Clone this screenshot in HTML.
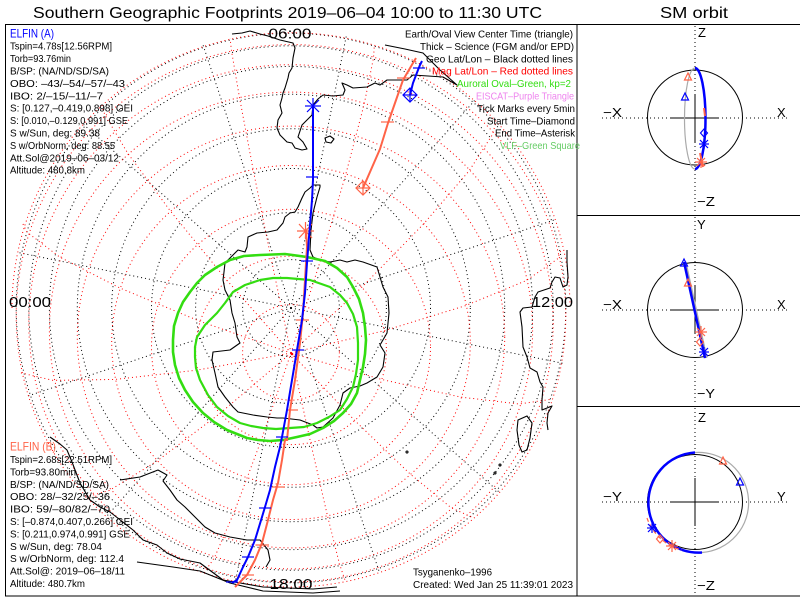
<!DOCTYPE html>
<html><head><meta charset="utf-8"><style>
html,body{margin:0;padding:0;background:#fff;}
svg{display:block;}
text{font-family:"Liberation Sans",sans-serif;}
</style></head><body>
<svg width="800" height="600" viewBox="0 0 800 600" xmlns="http://www.w3.org/2000/svg">
<rect width="800" height="600" fill="#fff"/>
<defs><clipPath id="mc"><rect x="5" y="24" width="572" height="572"/></clipPath></defs>

<!-- Titles -->
<text x="33" y="18" font-size="16" textLength="509" lengthAdjust="spacingAndGlyphs">Southern Geographic Footprints 2019–06–04 10:00 to 11:30 UTC</text>
<text x="660" y="18" font-size="16" textLength="68" lengthAdjust="spacingAndGlyphs">SM orbit</text>

<g clip-path="url(#mc)">
<!-- geo circles (black dotted) -->
<g fill="none" stroke="#000" stroke-width="1" stroke-dasharray="1,3">
<circle cx="291" cy="308" r="48.4"/>
<circle cx="291" cy="308" r="95.4"/>
<circle cx="291" cy="308" r="139.5"/>
<circle cx="291" cy="308" r="179.3"/>
<circle cx="291" cy="308" r="213.7"/>
<circle cx="291" cy="308" r="241.6"/>
<circle cx="291" cy="308" r="262.2"/>
<circle cx="291" cy="308" r="274.8"/>
<line x1="291" y1="308" x2="564.4" y2="363.6"/>
<line x1="291" y1="308" x2="500" y2="492.9"/>
<line x1="291" y1="308" x2="379.5" y2="572.6"/>
<line x1="291" y1="308" x2="235.4" y2="581.4"/>
<line x1="291" y1="308" x2="106.1" y2="517"/>
<line x1="291" y1="308" x2="26.4" y2="396.5"/>
<line x1="291" y1="308" x2="17.6" y2="252.4"/>
<line x1="291" y1="308" x2="82" y2="123.1"/>
<line x1="291" y1="308" x2="202.5" y2="43.4"/>
<line x1="291" y1="308" x2="346.6" y2="34.6"/>
<line x1="291" y1="308" x2="475.9" y2="99"/>
<line x1="291" y1="308" x2="555.6" y2="219.5"/>
</g>
<!-- mag circles (red dotted) -->
<g fill="none" stroke="#ff0000" stroke-width="1" stroke-dasharray="1,3">
<ellipse cx="291" cy="352.4" rx="48.4" ry="47.8"/>
<ellipse cx="291" cy="350.4" rx="95.4" ry="94.2"/>
<ellipse cx="291" cy="347" rx="139.5" ry="137.7"/>
<ellipse cx="291" cy="342.5" rx="179.3" ry="177"/>
<ellipse cx="291" cy="337" rx="213.7" ry="210.9"/>
<ellipse cx="291" cy="330.5" rx="241.6" ry="238.4"/>
<ellipse cx="291" cy="323.4" rx="262.2" ry="258.7"/>
<ellipse cx="291" cy="315.8" rx="274.8" ry="271.2"/>
<path d="M12,308 A279 275.3 0 0 1 570,308"/>
<g transform="rotate(-4 291 353)">
<polyline points="291,353 385.5,337.3 468.6,317.9 530.3,297.3 563.1,278 567.3,269.7"/>
<polyline points="291,353 379.5,385.7 457.2,408.8 515,419.8 545.8,417.4"/>
<polyline points="291,353 349.7,424.6 401.4,482 439.8,518.4 460.2,529.5"/>
<polyline points="291,353 304.3,443.7 316,517.8 324.6,566.7 329.3,584.4"/>
<polyline points="291,353 255.3,437.7 223.8,506.6 200.5,551.6 188.1,567.3"/>
<polyline points="291,353 215.8,408.4 149.7,451.5 100.6,477.3 74.5,482.8"/>
<polyline points="291,353 196.5,363.5 113.4,367.1 51.7,363.7 18.9,353.6"/>
<polyline points="291,353 202.5,315.1 124.8,276.2 67,241.2 36.2,214.2 32.3,204.9"/>
<polyline points="291,353 232.3,276.2 180.6,203 142.2,142.6 121.8,102.1 119.2,91"/>
<polyline points="291,353 277.7,257.1 266,167.2 257.4,94.3 252.7,47.2 252.2,35.3"/>
<polyline points="291,353 326.7,263.1 358.2,178.4 381.5,109.4 393.9,64.3 395.5,52.7"/>
<polyline points="291,353 366.2,292.4 432.3,233.5 481.4,183.7 507.5,148.8 510.9,138.5"/>
</g>
</g>

<!-- Coastlines -->
<g fill="none" stroke="#000" stroke-width="1.1" stroke-linejoin="round">
<polyline points="232,34 242,33 250,31 260,34 268,36 280,40 293,43 295,48 293,58 292,68 289,73 288,78 285,88 283,93 282,98 280,105 282,113 278,120 277,128 280,135 284,139 287,142 292,143 295,148 302,150 307,149 303,142 298,137 302,125 307,120 312,115 313,105 318,99 323,95 333,96 343,95 345,90 342,83 347,85 353,88 367,87 375,83 380,85 387,80 393,80 407,80 413,75 428,76 443,77 457,85 440,70 423,53 405,49 385,45"/>
<polygon points="325,138 330,136 334,139 331,143 326,142"/>
<polygon points="320,185 313,185 310,188 305,192 302,198 298,207 295,212 290,213 285,217 283,223 277,230 268,232 257,233 248,237 247,247 245,252 238,250 230,258 225,263 224,272 223,280 225,290 230,300 232,313 235,323 237,337 240,343 230,350 213,352 212,360 215,373 218,387 225,397 233,407 238,412 253,415 267,417 277,418 283,418 300,420 313,425 317,428 323,427 333,418 340,405 343,393 350,388 360,386 367,383 377,377 383,367 385,353 380,345 387,333 389,313 388,297 383,287 380,277 377,267 363,262 355,260 347,262 340,260 330,262 320,260 313,257 310,250 311,230 313,213 317,197 320,187"/>
<polyline points="567,250 567,262 568,277 567,285 563,287 560,278 555,277 552,282 550,288 538,292 535,297 532,307 523,308 520,312 522,327 523,347 527,357 530,368 537,372 540,382 543,387 542,400 542,410 547,408 552,406 548,413 547,423 548,430"/>
<polygon points="518,420 527,416 532,423 530,438 527,450 522,452 519,445 517,430"/>
<polyline points="50,437 60,444 67,450 72,462 80,483 90,500 100,507 110,512 133,530 143,540 157,545 167,553 180,559 200,563 223,580 263,587 313,589 337,587"/>
<polyline points="137,562 173,567 200,571 230,583 263,591 313,593 340,591"/>
<polyline points="120,480 140,477 158,470 167,475 163,481 170,490 177,500 185,507 195,517 205,527 215,533 230,537 247,540 260,540 268,550 270,560 266,567"/>
<circle cx="407" cy="452" r="1"/><circle cx="500" cy="465" r="1"/><circle cx="495" cy="473" r="1"/>
</g>

<!-- Auroral ovals -->
<g fill="none" stroke="#33dd11" stroke-linejoin="round">
<polygon stroke-width="2.6" points="260,255 285,254 307,257 325,261 337,268 347,277 353,287 359,299 363,313 365,327 366,340 365,354 363,367 360,380 357,393 351,404 343,413 334,421 323,428 310,434 297,437 283,440 270,441 258,440 247,438 237,434 227,430 214,422 203,413 193,402 185,390 179,378 175,365 173,352 173,340 174,326 178,313 183,302 190,292 197,283 205,275 217,267 230,260 244,256"/>
<polygon stroke-width="2.2" points="287,278 310,280 330,287 340,295 347,303 353,314 357,327 358,343 358,360 356,374 353,387 347,399 340,410 329,417 317,423 304,427 290,428 276,429 263,428 251,426 240,423 228,416 217,407 208,395 200,380 196,368 195,357 195,347 197,337 205,325 217,313 225,303 233,292 245,285 260,280 273,278"/>
</g>

<!-- ELFIN B track (orange) -->
<g fill="none" stroke="#ff6347" stroke-width="2">
<polyline points="235,587 240,582 247,575 255,560 262,543 268,520 273,500 278,483 282,460 285,440 287,440 290,410 295,380 300,343 303,313 305,280 307,247 306,230"/>
<polyline points="363,188 370,172 380,149 388,123 395,103 403,80 413,63 416,58"/>
<g stroke-width="1.2">
<line x1="272" y1="487" x2="285" y2="487"/>
<line x1="256" y1="545" x2="269" y2="545"/>
<line x1="242" y1="575" x2="254" y2="575"/>
<line x1="296" y1="320" x2="309" y2="320"/>
<line x1="286" y1="410" x2="298" y2="410"/>
<line x1="397" y1="78" x2="410" y2="78"/>
<line x1="381" y1="122" x2="394" y2="122"/>
<polygon points="363,181 370,188 363,195 356,188"/>
<line x1="356" y1="188" x2="370" y2="188"/><line x1="363" y1="181" x2="363" y2="195"/>
<line x1="297" y1="231" x2="314" y2="231"/><line x1="305.5" y1="222" x2="305.5" y2="239"/>
<line x1="299" y1="224" x2="312" y2="238"/><line x1="312" y1="224" x2="299" y2="238"/>
</g>
<circle cx="292" cy="354" r="1.3" fill="#ff0000" stroke="none"/>
</g>

<!-- ELFIN A track (blue) -->
<g fill="none" stroke="#0000ff" stroke-width="2">
<polyline points="232,583 237,580 243,567 248,557 255,540 262,517 265,507 270,490 275,467 280,447 282,437 287,410 292,380 297,350 302,320 305,293 307,263 309,237 312,200 313,180 313,142 313,106"/>
<polyline points="410,95 413,83 418,70 420,65 422,61"/>
<g stroke-width="1.2">
<line x1="306" y1="177" x2="318" y2="177"/>
<line x1="301" y1="261" x2="313" y2="261"/>
<line x1="292" y1="350" x2="304" y2="350"/>
<line x1="276" y1="437" x2="288" y2="437"/>
<line x1="259" y1="508" x2="271" y2="508"/>
<line x1="242" y1="557" x2="254" y2="557"/>
<line x1="226" y1="582" x2="238" y2="582"/>
<line x1="413" y1="68" x2="425" y2="68"/>
<polygon points="410,88 417,95 410,102 403,95"/>
<line x1="403" y1="95" x2="417" y2="95"/><line x1="410" y1="88" x2="410" y2="102"/>
<line x1="305" y1="106" x2="321" y2="106"/><line x1="313" y1="98" x2="313" y2="114"/>
<line x1="307" y1="100" x2="319" y2="112"/><line x1="319" y1="100" x2="307" y2="112"/>
</g>
</g>

<!-- hour labels -->
<g font-size="15">
<text x="268.5" y="38.5" textLength="43" lengthAdjust="spacingAndGlyphs">06:00</text>
<text x="269.5" y="589" textLength="43" lengthAdjust="spacingAndGlyphs">18:00</text>
<text x="9" y="307" textLength="42" lengthAdjust="spacingAndGlyphs">00:00</text>
<text x="532" y="307" textLength="41" lengthAdjust="spacingAndGlyphs">12:00</text>
</g>
</g>

<!-- frames -->
<g stroke="#000" stroke-width="1" fill="none">
<rect x="5.5" y="24.5" width="571.5" height="571.5"/>
<line x1="577" y1="24.5" x2="800" y2="24.5"/>
<line x1="577" y1="215.5" x2="800" y2="215.5"/>
<line x1="577" y1="406.5" x2="800" y2="406.5"/>
<line x1="577" y1="596" x2="800" y2="596"/>
</g>

<!-- ELFIN A text -->
<g font-size="10.5">
<text x="10" y="37.5" font-size="12" fill="#0000ff" textLength="44" lengthAdjust="spacingAndGlyphs">ELFIN (A)</text>
<text x="10" y="49.7" textLength="102" lengthAdjust="spacingAndGlyphs">Tspin=4.78s[12.56RPM]</text>
<text x="10" y="62.1" textLength="61" lengthAdjust="spacingAndGlyphs">Torb=93.76min</text>
<text x="10" y="74.5" textLength="99" lengthAdjust="spacingAndGlyphs">B/SP: (NA/ND/SD/SA)</text>
<text x="10" y="86.9" textLength="115" lengthAdjust="spacingAndGlyphs">OBO: –43/–54/–57/–43</text>
<text x="10" y="99.3" textLength="93" lengthAdjust="spacingAndGlyphs">IBO: 2/–15/–11/–7</text>
<text x="10" y="111.7" textLength="123" lengthAdjust="spacingAndGlyphs">S: [0.127,–0.419,0.898] GEI</text>
<text x="10" y="124.1" textLength="118" lengthAdjust="spacingAndGlyphs">S: [0.010,–0.129,0.991] GSE</text>
<text x="10" y="136.5" textLength="90" lengthAdjust="spacingAndGlyphs">S w/Sun, deg: 89.38</text>
<text x="10" y="148.9" textLength="105" lengthAdjust="spacingAndGlyphs">S w/OrbNorm, deg: 88.55</text>
<text x="10" y="161.3" textLength="109" lengthAdjust="spacingAndGlyphs">Att.Sol@2019–06–03/12</text>
<text x="10" y="173.7" textLength="75" lengthAdjust="spacingAndGlyphs">Altitude: 480.8km</text>
</g>

<!-- ELFIN B text -->
<g font-size="10.5">
<text x="10" y="450.5" font-size="12" fill="#ff6347" textLength="46" lengthAdjust="spacingAndGlyphs">ELFIN (B)</text>
<text x="10" y="463" textLength="102" lengthAdjust="spacingAndGlyphs">Tspin=2.68s[22.51RPM]</text>
<text x="10" y="475.4" textLength="66" lengthAdjust="spacingAndGlyphs">Torb=93.80min</text>
<text x="10" y="487.8" textLength="99" lengthAdjust="spacingAndGlyphs">B/SP: (NA/ND/SD/SA)</text>
<text x="10" y="500.2" textLength="100" lengthAdjust="spacingAndGlyphs">OBO: 28/–32/25/–36</text>
<text x="10" y="512.6" textLength="100" lengthAdjust="spacingAndGlyphs">IBO: 59/–80/82/–70</text>
<text x="10" y="525" textLength="123" lengthAdjust="spacingAndGlyphs">S: [–0.874,0.407,0.266] GEI</text>
<text x="10" y="537.4" textLength="120" lengthAdjust="spacingAndGlyphs">S: [0.211,0.974,0.991] GSE</text>
<text x="10" y="549.8" textLength="92" lengthAdjust="spacingAndGlyphs">S w/Sun, deg: 78.04</text>
<text x="10" y="562.2" textLength="114" lengthAdjust="spacingAndGlyphs">S w/OrbNorm, deg: 112.4</text>
<text x="10" y="574.6" textLength="115" lengthAdjust="spacingAndGlyphs">Att.Sol@: 2019–06–18/11</text>
<text x="10" y="587" textLength="75" lengthAdjust="spacingAndGlyphs">Altitude: 480.7km</text>
</g>

<!-- bottom right -->
<g font-size="10.5">
<text x="413" y="575.5" textLength="79" lengthAdjust="spacingAndGlyphs">Tsyganenko–1996</text>
<text x="413" y="588" textLength="160" lengthAdjust="spacingAndGlyphs">Created: Wed Jan 25 11:39:01 2023</text>
</g>

<!-- legend -->
<g font-size="10.5">
<text x="405" y="37.5" textLength="168" lengthAdjust="spacingAndGlyphs">Earth/Oval View Center Time (triangle)</text>
<text x="420" y="49.9" textLength="154" lengthAdjust="spacingAndGlyphs">Thick – Science (FGM and/or EPD)</text>
<text x="426" y="62.3" textLength="147" lengthAdjust="spacingAndGlyphs">Geo Lat/Lon – Black dotted lines</text>
<text x="432" y="74.7" fill="#ff0000" textLength="141" lengthAdjust="spacingAndGlyphs">Mag Lat/Lon – Red dotted lines</text>
<text x="457" y="87.1" fill="#33dd11" textLength="114" lengthAdjust="spacingAndGlyphs">Auroral Oval–Green, kp=2</text>
<text x="476" y="99.5" fill="#ee82ee" textLength="98" lengthAdjust="spacingAndGlyphs">EISCAT–Purple Triangle</text>
<text x="477" y="111.9" textLength="98" lengthAdjust="spacingAndGlyphs">Tick Marks every 5min</text>
<text x="487" y="124.3" textLength="88" lengthAdjust="spacingAndGlyphs">Start Time–Diamond</text>
<text x="495" y="136.7" textLength="80" lengthAdjust="spacingAndGlyphs">End Time–Asterisk</text>
<text x="500" y="149.1" fill="#66cc66" textLength="80" lengthAdjust="spacingAndGlyphs">VLF–Green Square</text>
</g>

<!-- Right panels -->
<g fill="none" stroke="#000" stroke-width="1" stroke-dasharray="1,3">
<line x1="602" y1="118" x2="790" y2="118"/><line x1="695" y1="26" x2="695" y2="214"/>
<line x1="602" y1="310" x2="790" y2="310"/><line x1="695" y1="217" x2="695" y2="405"/>
<line x1="602" y1="502" x2="790" y2="502"/><line x1="695" y1="408" x2="695" y2="596"/>
</g>
<g fill="none" stroke="#000" stroke-width="1">
<line x1="671" y1="118" x2="719" y2="118"/><line x1="695" y1="94" x2="695" y2="142"/>
<circle cx="695" cy="117.5" r="47.5"/>
<line x1="671" y1="310" x2="719" y2="310"/><line x1="695" y1="286" x2="695" y2="334"/>
<circle cx="695" cy="310" r="47.5"/>
<line x1="671" y1="502" x2="719" y2="502"/><line x1="695" y1="478" x2="695" y2="526"/>
<circle cx="695" cy="502" r="47.5"/>
</g>
<g font-size="13">
<text x="698" y="37">Z</text>
<text x="697" y="206" textLength="18" lengthAdjust="spacingAndGlyphs">−Z</text>
<text x="603" y="117" textLength="19" lengthAdjust="spacingAndGlyphs">−X</text>
<text x="777" y="117">X</text>
<text x="697" y="229">Y</text>
<text x="697" y="398" textLength="18" lengthAdjust="spacingAndGlyphs">−Y</text>
<text x="603" y="309" textLength="19" lengthAdjust="spacingAndGlyphs">−X</text>
<text x="777" y="309">X</text>
<text x="698" y="422">Z</text>
<text x="697" y="590" textLength="18" lengthAdjust="spacingAndGlyphs">−Z</text>
<text x="603" y="501" textLength="19" lengthAdjust="spacingAndGlyphs">−Y</text>
<text x="777" y="501">Y</text>
</g>

<!-- panel 1 orbit -->
<path d="M695,68 A10.5 50.5 0 0 0 695,169" fill="none" stroke="#aaaaaa" stroke-width="1.2"/>
<path d="M695,68 A10.5 50.5 0 0 1 695,169" fill="none" stroke="#0000ff" stroke-width="2.5"/>
<g fill="none" stroke-width="1.2">
<line x1="704" y1="108" x2="705" y2="116" stroke="#ff6347" stroke-width="2"/>
<line x1="700" y1="153" x2="703" y2="167" stroke="#ff6347" stroke-width="2"/>
<polygon points="688,73 684.5,80 691.5,80" stroke="#ff6347"/>
<polygon points="685,93 681.5,100 688.5,100" stroke="#0000ff"/>
<polygon points="704,129 707.5,133 704,137 700.5,133" stroke="#0000ff"/>
<g stroke="#0000ff"><line x1="699" y1="144" x2="709" y2="144"/><line x1="704" y1="139" x2="704" y2="149"/><line x1="700" y1="140" x2="708" y2="148"/><line x1="708" y1="140" x2="700" y2="148"/></g>
<g stroke="#ff6347"><line x1="695" y1="162" x2="707" y2="162"/><line x1="701" y1="156" x2="701" y2="168"/><line x1="697" y1="158" x2="705" y2="166"/><line x1="705" y1="158" x2="697" y2="166"/></g>
</g>

<!-- panel 2 orbit -->
<line x1="685" y1="262" x2="706" y2="358" stroke="#aaaaaa" stroke-width="3"/>
<line x1="684" y1="262" x2="705" y2="358" stroke="#0000ff" stroke-width="2.5"/>
<g fill="none" stroke-width="1.2">
<polygon points="684,259 680.5,266 687.5,266" stroke="#0000ff"/>
<polygon points="688,279 684.5,286 691.5,286" stroke="#ff6347"/>
<g stroke="#ff6347"><line x1="695" y1="332" x2="707" y2="332"/><line x1="701" y1="326" x2="701" y2="338"/><line x1="697" y1="328" x2="705" y2="336"/><line x1="705" y1="328" x2="697" y2="336"/></g>
<polygon points="700,338 703.5,342 700,346 696.5,342" stroke="#ff6347"/>
<g stroke="#0000ff"><line x1="699" y1="352" x2="709" y2="352"/><line x1="704" y1="347" x2="704" y2="357"/><line x1="700" y1="348" x2="708" y2="356"/><line x1="708" y1="348" x2="700" y2="356"/></g>
</g>

<!-- panel 3 orbit -->
<path d="M695,452.5 A50 50 0 0 1 702,552.5" fill="none" stroke="#aaaaaa" stroke-width="1.2"/>
<path d="M695,452.5 A50 50 0 0 0 702,552.5" fill="none" stroke="#0000ff" stroke-width="2.5"/>
<path d="M647,518 A50 50 0 0 0 682,550" fill="none" stroke="#ff6347" stroke-width="1.2" stroke-dasharray="4,3"/>
<g fill="none" stroke-width="1.2">
<polygon points="723,457 719.5,464 726.5,464" stroke="#ff6347"/>
<polygon points="740,478 736.5,485 743.5,485" stroke="#0000ff"/>
<polygon points="660,535 663.5,539 660,543 656.5,539" stroke="#ff6347"/>
<g stroke="#0000ff"><line x1="647" y1="528" x2="657" y2="528"/><line x1="652" y1="523" x2="652" y2="533"/><line x1="648" y1="524" x2="656" y2="532"/><line x1="656" y1="524" x2="648" y2="532"/></g>
<g stroke="#ff6347"><line x1="666" y1="546" x2="678" y2="546"/><line x1="672" y1="540" x2="672" y2="552"/><line x1="668" y1="542" x2="676" y2="550"/><line x1="676" y1="542" x2="668" y2="550"/></g>
</g>
</svg>
</body></html>
